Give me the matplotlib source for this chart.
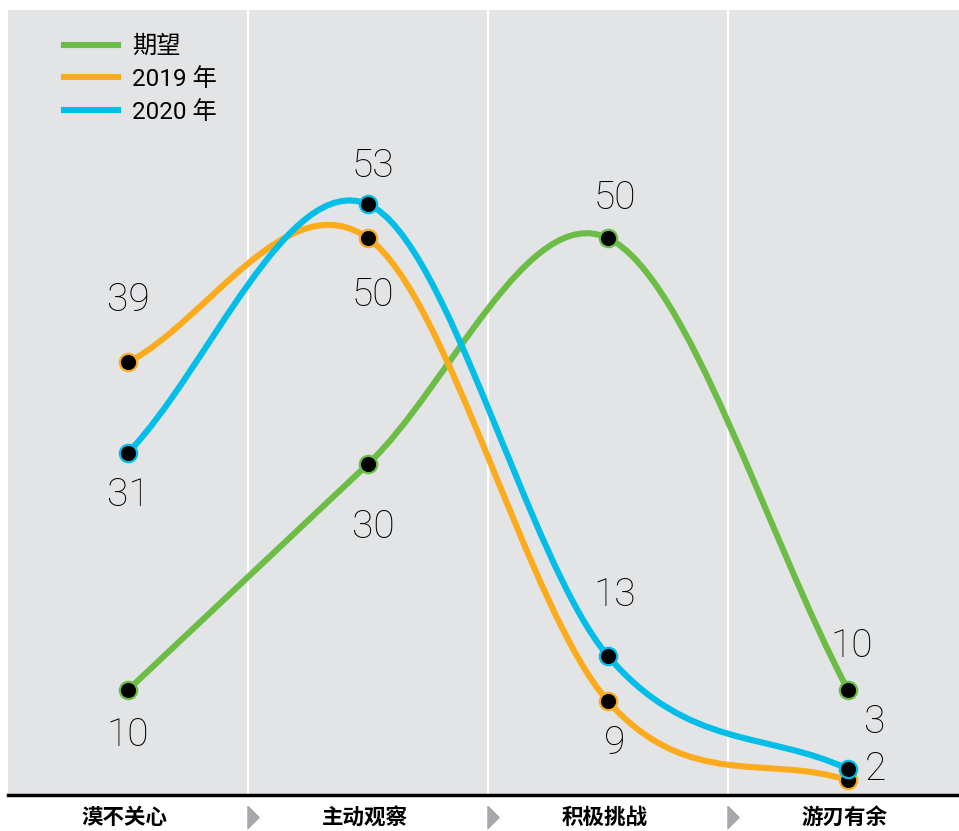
import matplotlib.pyplot as plt
import numpy as np
from matplotlib.path import Path
from matplotlib.patches import PathPatch
from matplotlib.lines import Line2D

plt.rcParams['font.family'] = ['Roboto', 'Noto Sans CJK SC', 'DejaVu Sans']

stages = ['漠不关心', '主动观察', '积极挑战', '游刃有余']
expect = [10, 30, 50, 10]
y2019 = [39, 50, 9, 2]
y2020 = [31, 53, 13, 3]

c_green = '#6cbd45'
c_orange = '#fbab1c'
c_blue = '#00bee8'

# label offsets in pixels (dx, dy)
off_expect = [(0, -45), (5, -63), (7, 40), (4, 44)]
off_2019 = [(0, 62), (5, -57), (7, -42), (27, 11)]
off_2020 = [(0, -42), (5, 38), (7, 61), (27, 47)]


def smooth_path(xs, ys):
    n = len(xs)
    m = []
    for i in range(n):
        if i == 0:
            m.append(ys[1] - ys[0])
        elif i == n - 1:
            m.append(ys[-1] - ys[-2])
        else:
            m.append((ys[i + 1] - ys[i - 1]) / 2)
    verts = [(xs[0], ys[0])]
    codes = [Path.MOVETO]
    for i in range(n - 1):
        dx = xs[i + 1] - xs[i]
        verts += [(xs[i] + dx / 3, ys[i] + m[i] * dx / 3),
                  (xs[i + 1] - dx / 3, ys[i + 1] - m[i + 1] * dx / 3),
                  (xs[i + 1], ys[i + 1])]
        codes += [Path.CURVE4] * 3
    return Path(verts, codes)


fig = plt.figure(figsize=(9.59, 8.31), dpi=100)
ax = fig.add_axes([8 / 959, 36 / 831, 951 / 959, 785 / 831])
ax.set_facecolor('#e3e4e6')

x = np.arange(len(stages))
for k in range(3):
    ax.axvline(k + 0.5, color='white', lw=1.6, zorder=1)

for vals, col, offs in [(expect, c_green, off_expect),
                        (y2019, c_orange, off_2019),
                        (y2020, c_blue, off_2020)]:
    p = smooth_path(x, vals)
    ax.add_patch(PathPatch(p, fill=False, edgecolor=col, lw=4.4,
                           capstyle='round', zorder=3))
    ax.plot(x, vals, 'o', ms=12.5, mfc='black', mec=col, mew=1.6, zorder=5)
    for xi, v, o in zip(x, vals, offs):
        ax.annotate(str(v), (xi, v), xytext=o, textcoords='offset pixels',
                    ha='center', va='center', fontsize=28, fontweight='light',
                    color='black', zorder=6)

ax.set_xlim(-0.5, 3.4625)
ax.set_ylim(0.7, 70.2)
ax.set_xticks([])
ax.set_yticks([])
for s in ['left', 'right', 'top']:
    ax.spines[s].set_visible(False)
ax.spines['bottom'].set_color('black')
ax.spines['bottom'].set_linewidth(2.5)

for xi, name in zip(x, stages):
    ax.text(xi - 0.015, -0.029, name, transform=ax.get_xaxis_transform(),
            ha='center', va='center', fontsize=15.5, fontweight='bold',
            family='Noto Sans CJK SC')

tri = [(-0.5, 1), (0.5, 0), (-0.5, -1), (-0.5, 1)]
for k in range(3):
    ax.plot(k + 0.52, -0.028, marker=tri, ms=16, color='#a6a7aa',
            transform=ax.get_xaxis_transform(), clip_on=False)

handles = [Line2D([], [], color=c, lw=4.4) for c in [c_green, c_orange, c_blue]]
ax.legend(handles, ['期望', '2019 年', '2020 年'], loc='upper left',
          bbox_to_anchor=(0.059, 0.968), frameon=False, fontsize=17.5,
          handlelength=2.2, handletextpad=0.6, labelspacing=0.4,
          borderpad=0, borderaxespad=0)

fig.savefig('out.png', dpi=100)
